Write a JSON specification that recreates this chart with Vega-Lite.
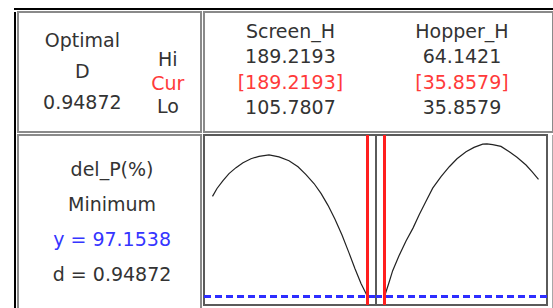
{
  "$schema": "https://vega.github.io/schema/vega-lite/v6.json",
  "background": "white",
  "padding": {"left": 14, "top": 8, "right": 0, "bottom": 0},
  "spacing": 1,
  "resolve": {"scale": {"x": "independent", "y": "independent"}},
  "config": {
    "view": {"stroke": null},
    "text": {"font": "DejaVu Sans", "fontSize": 19, "align": "center", "baseline": "middle"}
  },
  "vconcat": [
    {
      "width": 539, "height": 2,
      "view": {"fill": "black", "stroke": null},
      "data": {"values": []},
      "mark": "text", "encoding": {}
    },
    {
      "spacing": 1,
      "resolve": {"scale": {"x": "independent", "y": "independent"}},
      "hconcat": [
        {
          "width": 2, "height": 297,
          "view": {"fill": "black", "stroke": null},
          "data": {"values": []},
          "mark": "text", "encoding": {}
        },
        {
          "spacing": 0,
          "resolve": {"scale": {"x": "independent", "y": "independent"}},
          "vconcat": [
            {
              "bounds": "flush",
              "spacing": 3,
              "resolve": {"scale": {"x": "independent", "y": "independent"}},
              "hconcat": [
                {
                  "width": 183, "height": 120,
                  "view": {"stroke": "#8a8a8a", "strokeWidth": 2},
                  "data": {"values": [
                    {"group": "D", "row": "title", "text": "Optimal"},
                    {"group": "D", "row": "name", "text": "D"},
                    {"group": "D", "row": "value", "text": "0.94872"},
                    {"group": "key", "row": "Hi", "text": "Hi"},
                    {"group": "key", "row": "Cur", "text": "Cur"},
                    {"group": "key", "row": "Lo", "text": "Lo"}
                  ]},
                  "resolve": {"scale": {"y": "independent"}},
                  "layer": [
                    {
                      "transform": [{"filter": "datum.group === 'D'"}],
                      "mark": {"type": "text", "fill": "#333333"},
                      "encoding": {
                        "x": {"field": "group", "type": "nominal", "axis": null,
                              "scale": {"type": "point", "domain": ["D", "key"], "padding": 0.57, "align": 0.66}},
                        "y": {"field": "row", "type": "nominal", "axis": null,
                              "scale": {"type": "point", "domain": ["title", "name", "value"], "padding": 0.935, "align": 0.5}},
                        "text": {"field": "text"}
                      }
                    },
                    {
                      "transform": [{"filter": "datum.group === 'key'"}],
                      "mark": {"type": "text"},
                      "encoding": {
                        "x": {"field": "group", "type": "nominal", "axis": null,
                              "scale": {"type": "point", "domain": ["D", "key"], "padding": 0.57, "align": 0.66}},
                        "y": {"field": "row", "type": "nominal", "axis": null,
                              "scale": {"type": "point", "domain": ["above1", "above2", "Hi", "Cur", "Lo", "below"], "padding": 0.053, "align": 0.5}},
                        "text": {"field": "text"},
                        "fill": {"condition": {"test": "datum.row === 'Cur'", "value": "#ff3a3a"}, "value": "#333333"}
                      }
                    }
                  ]
                },
                {
                  "width": 349, "height": 120,
                  "view": {"stroke": "#8a8a8a", "strokeWidth": 2},
                  "data": {"values": [
                    {"factor": "Screen_H", "row": "name", "text": "Screen_H"},
                    {"factor": "Screen_H", "row": "Hi", "text": "189.2193"},
                    {"factor": "Screen_H", "row": "Cur", "text": "[189.2193]"},
                    {"factor": "Screen_H", "row": "Lo", "text": "105.7807"},
                    {"factor": "Hopper_H", "row": "name", "text": "Hopper_H"},
                    {"factor": "Hopper_H", "row": "Hi", "text": "64.1421"},
                    {"factor": "Hopper_H", "row": "Cur", "text": "[35.8579]"},
                    {"factor": "Hopper_H", "row": "Lo", "text": "35.8579"}
                  ]},
                  "mark": {"type": "text"},
                  "encoding": {
                    "x": {"field": "factor", "type": "nominal", "axis": null,
                          "scale": {"type": "point", "domain": ["Screen_H", "Hopper_H"], "padding": 0.5175, "align": 0.487}},
                    "y": {"field": "row", "type": "nominal", "axis": null,
                          "scale": {"type": "point", "domain": ["name", "Hi", "Cur", "Lo"], "padding": 0.868, "align": 0.4545}},
                    "text": {"field": "text"},
                    "fill": {"condition": {"test": "datum.row === 'Cur'", "value": "#ff3a3a"}, "value": "#333333"}
                  }
                }
              ]
            },
            {
              "spacing": 0,
              "resolve": {"scale": {"x": "independent", "y": "independent"}},
              "hconcat": [
                {
                  "width": 183, "height": 175,
                  "view": {"stroke": "#8a8a8a", "strokeWidth": 2},
                  "data": {"values": [
                    {"row": "response", "text": "del_P(%)"},
                    {"row": "goal", "text": "Minimum"},
                    {"row": "y", "text": "y = 97.1538"},
                    {"row": "d", "text": "d = 0.94872"}
                  ]},
                  "mark": {"type": "text"},
                  "encoding": {
                    "x": {"datum": "c", "type": "nominal", "axis": null,
                          "scale": {"type": "point", "domain": ["c"], "padding": 0.5, "align": 0.514}},
                    "y": {"field": "row", "type": "nominal", "axis": null,
                          "scale": {"type": "point", "domain": ["response", "goal", "y", "d"], "padding": 1, "align": 0.5}},
                    "text": {"field": "text"},
                    "fill": {"condition": {"test": "datum.row === 'y'", "value": "#3535ff"}, "value": "#333333"}
                  }
                },
                {
                  "bounds": "flush",
                  "spacing": 0,
                  "resolve": {"scale": {"x": "independent", "y": "independent"}},
                  "hconcat": [
                    {
                      "width": 172, "height": 170,
                      "view": {"stroke": "#5a5a5a", "strokeWidth": 2},
                      "data": {"values": [
                        {"Screen_H": 105.7807, "del_P": 98.732},
                        {"Screen_H": 108.20, "del_P": 98.857},
                        {"Screen_H": 111.43, "del_P": 98.982},
                        {"Screen_H": 114.66, "del_P": 99.091},
                        {"Screen_H": 118.43, "del_P": 99.185},
                        {"Screen_H": 122.20, "del_P": 99.263},
                        {"Screen_H": 126.51, "del_P": 99.325},
                        {"Screen_H": 130.81, "del_P": 99.364},
                        {"Screen_H": 136.20, "del_P": 99.388},
                        {"Screen_H": 141.58, "del_P": 99.356},
                        {"Screen_H": 146.96, "del_P": 99.294},
                        {"Screen_H": 151.81, "del_P": 99.200},
                        {"Screen_H": 156.11, "del_P": 99.075},
                        {"Screen_H": 160.42, "del_P": 98.935},
                        {"Screen_H": 164.19, "del_P": 98.779},
                        {"Screen_H": 167.96, "del_P": 98.591},
                        {"Screen_H": 171.72, "del_P": 98.373},
                        {"Screen_H": 175.49, "del_P": 98.123},
                        {"Screen_H": 179.26, "del_P": 97.842},
                        {"Screen_H": 182.49, "del_P": 97.592},
                        {"Screen_H": 185.72, "del_P": 97.358},
                        {"Screen_H": 189.2193, "del_P": 97.1538}
                      ]},
                      "layer": [
                        {
                          "mark": {"type": "line", "color": "#222222", "strokeWidth": 1.2},
                          "encoding": {
                            "x": {"field": "Screen_H", "type": "quantitative", "axis": null,
                                  "scale": {"domain": [105.7807, 189.2193], "nice": false, "zero": false, "padding": 8.5}},
                            "y": {"field": "del_P", "type": "quantitative", "axis": null,
                                  "scale": {"domain": [97.02, 99.70], "nice": false, "zero": false}}
                          }
                        },
                        {
                          "mark": {"type": "rule", "color": "#2f2fff", "strokeWidth": 1.5, "strokeDash": [7, 4]},
                          "encoding": {"y": {"datum": 97.1538, "type": "quantitative"}}
                        },
                        {
                          "mark": {"type": "rule", "color": "#ff1f1f", "strokeWidth": 1.4},
                          "encoding": {"x": {"datum": 189.2193, "type": "quantitative"}}
                        }
                      ]
                    },
                    {
                      "width": 171, "height": 170,
                      "view": {"stroke": "#5a5a5a", "strokeWidth": 2},
                      "data": {"values": [
                        {"Hopper_H": 35.8579, "del_P": 97.1538},
                        {"Hopper_H": 36.63, "del_P": 97.358},
                        {"Hopper_H": 37.36, "del_P": 97.561},
                        {"Hopper_H": 38.52, "del_P": 97.795},
                        {"Hopper_H": 39.81, "del_P": 98.029},
                        {"Hopper_H": 41.09, "del_P": 98.232},
                        {"Hopper_H": 42.25, "del_P": 98.446},
                        {"Hopper_H": 43.48, "del_P": 98.654},
                        {"Hopper_H": 44.71, "del_P": 98.862},
                        {"Hopper_H": 46.24, "del_P": 99.044},
                        {"Hopper_H": 47.76, "del_P": 99.200},
                        {"Hopper_H": 49.17, "del_P": 99.325},
                        {"Hopper_H": 50.83, "del_P": 99.435},
                        {"Hopper_H": 52.30, "del_P": 99.505},
                        {"Hopper_H": 53.89, "del_P": 99.555},
                        {"Hopper_H": 54.68, "del_P": 99.559},
                        {"Hopper_H": 55.73, "del_P": 99.549},
                        {"Hopper_H": 57.25, "del_P": 99.520},
                        {"Hopper_H": 58.78, "del_P": 99.435},
                        {"Hopper_H": 60.19, "del_P": 99.349},
                        {"Hopper_H": 61.85, "del_P": 99.227},
                        {"Hopper_H": 62.95, "del_P": 99.122},
                        {"Hopper_H": 64.1421, "del_P": 99.002}
                      ]},
                      "layer": [
                        {
                          "mark": {"type": "line", "color": "#222222", "strokeWidth": 1.2},
                          "encoding": {
                            "x": {"field": "Hopper_H", "type": "quantitative", "axis": null,
                                  "scale": {"domain": [35.8579, 64.1421], "nice": false, "zero": false, "padding": 8.5}},
                            "y": {"field": "del_P", "type": "quantitative", "axis": null,
                                  "scale": {"domain": [97.02, 99.70], "nice": false, "zero": false}}
                          }
                        },
                        {
                          "mark": {"type": "rule", "color": "#2f2fff", "strokeWidth": 1.5, "strokeDash": [7, 4]},
                          "encoding": {"y": {"datum": 97.1538, "type": "quantitative"}}
                        },
                        {
                          "mark": {"type": "rule", "color": "#ff1f1f", "strokeWidth": 1.4},
                          "encoding": {"x": {"datum": 35.8579, "type": "quantitative"}}
                        }
                      ]
                    },
                    {
                      "width": 5, "height": 175,
                      "data": {"values": []},
                      "mark": "text", "encoding": {}
                    },
                    {
                      "width": 1, "height": 175,
                      "view": {"fill": "#a8a8a8", "stroke": null},
                      "data": {"values": []},
                      "mark": "text", "encoding": {}
                    }
                  ]
                }
              ]
            }
          ]
        }
      ]
    }
  ]
}
